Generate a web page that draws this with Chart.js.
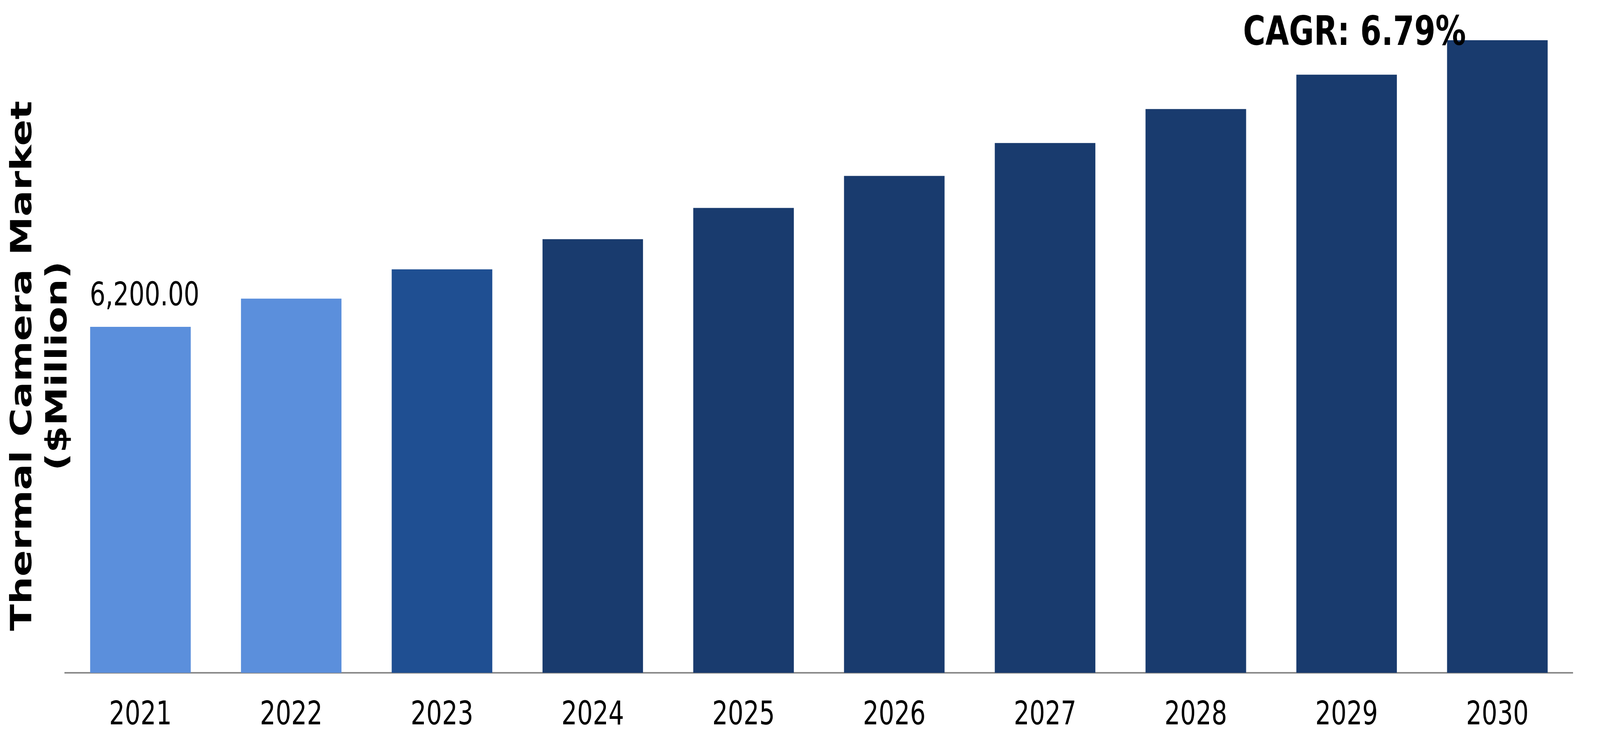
<!DOCTYPE html>
<html lang="en">
  <head>
    <meta charset="UTF-8" />
    <title>Thermal Camera Market</title>
    <script src="https://cdn.jsdelivr.net/npm/chart.js"></script>
    <style>
      html,
      body {
        margin: 0;
        padding: 0;
        overflow: hidden;
        background-color: #ffffff;
      }

      /* laid out at the reference size, then fitted to the window */
      .chart-container {
        position: relative;
        width: 5459px;
        height: 1913px;
        transform-origin: 0 0;
      }
    </style>
  </head>
  <body>
    <div class="chart-container">
      <canvas id="market-chart"></canvas>
    </div>

    <script>
      // values
      const years = ["2021", "2022", "2023", "2024", "2025", "2026", "2027", "2028", "2029", "2030"];
      const marketValues = [6200, 6705, 7230, 7770, 8330, 8905, 9493, 10103, 10719, 11336];
      const yAxisTitle = ["Thermal Camera Market", "($Million)"];
      const labeledYears = ["2021"];
      const cagrText = "CAGR: 6.79%";

      const lightBlue = "#5b8fdc";
      const midBlue = "#1f4f92";
      const darkBlue = "#193b6e";

      function barColor(year) {
        if (year === "2021" || year === "2022") return lightBlue;
        if (year === "2023") return midBlue;
        return darkBlue;
      }

      const fontFamily = '"DejaVu Sans", Verdana, sans-serif';

      const container = document.querySelector(".chart-container");
      container.style.transform =
        "scale(" + window.innerWidth / 5459 + ", " + window.innerHeight / 1913 + ")";

      // value label above the first bar and the CAGR note near the top
      const annotations = {
        id: "annotations",
        afterDatasetsDraw(chart) {
          const { ctx, scales } = chart;
          const bars = chart.getDatasetMeta(0).data;
          ctx.save();
          ctx.fillStyle = "#000000";
          ctx.textAlign = "center";
          ctx.textBaseline = "alphabetic";

          ctx.font = "84px " + fontFamily;
          labeledYears.forEach((year) => {
            const i = years.indexOf(year);
            const text = marketValues[i].toLocaleString("en-US", {
              minimumFractionDigits: 2,
              maximumFractionDigits: 2,
            });
            ctx.fillText(text, bars[i].x + 14, bars[i].y - 55);
          });

          ctx.font = "bold 104px " + fontFamily;
          const last = bars[bars.length - 1];
          ctx.fillText(cagrText, scales.x.getPixelForValue(years.length - 2) + 27, last.y + 12);
          ctx.restore();
        },
      };

      new Chart(document.getElementById("market-chart"), {
        type: "bar",
        data: {
          labels: years,
          datasets: [
            {
              label: "Thermal Camera Market",
              data: marketValues,
              backgroundColor: years.map(barColor),
              borderWidth: 0,
              categoryPercentage: 1,
              barPercentage: 0.667,
              clip: false,
            },
          ],
        },
        options: {
          responsive: true,
          maintainAspectRatio: false,
          animation: false,
          devicePixelRatio: 1,
          layout: {
            padding: { top: 151, right: 93, bottom: 0, left: 0 },
          },
          plugins: {
            legend: { display: false },
            tooltip: { enabled: false },
          },
          scales: {
            x: {
              grid: { display: false, drawTicks: false },
              border: { display: true, color: "#898989", width: 4 },
              ticks: {
                color: "#000000",
                padding: 60,
                font: { family: fontFamily, size: 84 },
              },
              afterFit(scale) {
                scale.height = 190;
              },
            },
            y: {
              min: 0,
              max: 11000,
              grid: { display: false, drawTicks: false },
              border: { display: false },
              ticks: { display: false },
              title: {
                display: true,
                text: yAxisTitle,
                color: "#000000",
                padding: { top: 21, bottom: 0 },
                font: { family: fontFamily, size: 100, weight: "bold", lineHeight: 1.2 },
              },
              afterFit(scale) {
                scale.width = 222;
              },
            },
          },
        },
        plugins: [annotations],
      });
    </script>
  </body>
</html>
